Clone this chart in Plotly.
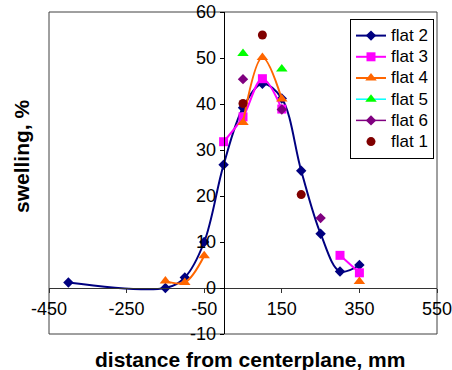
import plotly.graph_objects as go

# distance from centerplane, mm (shared positions for every flat)
distance = [-400, -150, -100, -50, 0, 50, 100, 150, 200, 250, 300, 350]

# swelling, % (None = not measured at that position)
flat_2 = [1.2, 0.0, 2.3, 10.0, 26.8, 39.2, 44.4, 41.2, 25.5, 11.8, 3.6, 5.0]
flat_3 = [None, None, None, None, 31.8, 37.2, 45.5, 38.9, None, None, 7.1, 3.3]
flat_4 = [None, 1.5, 1.2, 7.0, None, 36.0, 50.1, 41.1, None, None, None, 1.4]
flat_5 = [None, None, None, None, None, 51.0, None, 47.6, None, None, None, None]
flat_6 = [None, None, None, None, None, 45.4, None, 38.8, None, 15.2, None, None]
flat_1 = [None, None, None, None, None, 40.1, 55.0, None, 20.3, None, None, None]

x_ticks = [-450, -250, -50, 150, 350, 550]
y_ticks = [-10, 0, 10, 20, 30, 40, 50, 60]

X_RANGE = [-450, 550]
Y_RANGE = [-10, 60]

FONT = "Liberation Sans, Arial, sans-serif"

fig = go.Figure()

series = [
    ("flat 2", flat_2, dict(symbol="diamond", size=8, color="#000080"), dict(color="#000080", width=2), "lines+markers"),
    ("flat 3", flat_3, dict(symbol="square", size=9, color="#FF00FF"), dict(color="#FF00FF", width=2), "lines+markers"),
    ("flat 4", flat_4, dict(symbol="triangle-up", size=10, color="#FF6600"), dict(color="#FF6600", width=2), "lines+markers"),
    ("flat 5", flat_5, dict(symbol="triangle-up", size=10, color="#00FF00"), dict(color="#00FFFF", width=1.5), "lines+markers"),
    ("flat 6", flat_6, dict(symbol="diamond", size=8, color="#800080"), dict(color="#800080", width=1.5), "lines+markers"),
    ("flat 1", flat_1, dict(symbol="circle", size=9, color="#800000"), None, "markers"),
]

for name, values, marker, line, mode in series:
    kw = dict(x=distance, y=values, mode=mode, marker=marker, connectgaps=False,
              name='<span style="font-size:17px">%s</span>' % name)
    if line is not None:
        kw["line"] = dict(shape="spline", smoothing=1.0, **line)
    fig.add_trace(go.Scatter(**kw))

# axes cross at the origin
y_pos = (0 - Y_RANGE[0]) / (Y_RANGE[1] - Y_RANGE[0])
x_pos = (0 - X_RANGE[0]) / (X_RANGE[1] - X_RANGE[0])

fig.update_layout(
    width=452,
    height=370,
    margin=dict(l=49, r=15, t=12, b=36, autoexpand=False),
    paper_bgcolor="white",
    plot_bgcolor="white",
    font=dict(family=FONT, size=18, color="black"),
    xaxis=dict(
        range=X_RANGE, domain=[0, 1], anchor="free", position=y_pos,
        tickvals=x_ticks, ticktext=[str(v) for v in x_ticks],
        showline=True, linecolor="#333333", linewidth=1,
        ticks="outside", ticklen=4, tickcolor="#333333",
        showgrid=False, zeroline=False, ticklabeloverflow="allow",
        tickfont=dict(family=FONT, size=18, color="black"),
    ),
    yaxis=dict(
        range=Y_RANGE, domain=[0, 1], anchor="free", position=x_pos,
        tickvals=y_ticks, ticktext=[str(v) for v in y_ticks],
        showline=True, linecolor="black", linewidth=1,
        ticks="outside", ticklen=4, tickcolor="black",
        showgrid=False, zeroline=False, ticklabeloverflow="allow",
        tickfont=dict(family=FONT, size=18, color="black"),
    ),
    legend=dict(
        x=(350 - 49) / 388, y=(334 - 19) / 322, xanchor="left", yanchor="top",
        bordercolor="black", borderwidth=1, bgcolor="white",
        font=dict(family=FONT, size=14, color="black"),
        itemwidth=30, tracegroupgap=0,
    ),
    shapes=[
        dict(type="rect", xref="paper", yref="paper", x0=0, y0=0, x1=1, y1=1,
             line=dict(color="#404040", width=1), layer="below"),
    ],
    annotations=[
        dict(text="<b>distance from centerplane, mm</b>", xref="paper", yref="paper",
             x=(250 - 49) / 388, y=-(359 - 334) / 322, xanchor="center", yanchor="middle",
             showarrow=False, font=dict(family=FONT, size=21, color="black")),
        dict(text="<b>swelling, %</b>", xref="paper", yref="paper",
             x=-(49 - 21) / 388, y=(334 - 156) / 322, xanchor="center", yanchor="middle",
             textangle=-90, showarrow=False, font=dict(family=FONT, size=21, color="black")),
    ],
)

fig.write_html("out.html")
